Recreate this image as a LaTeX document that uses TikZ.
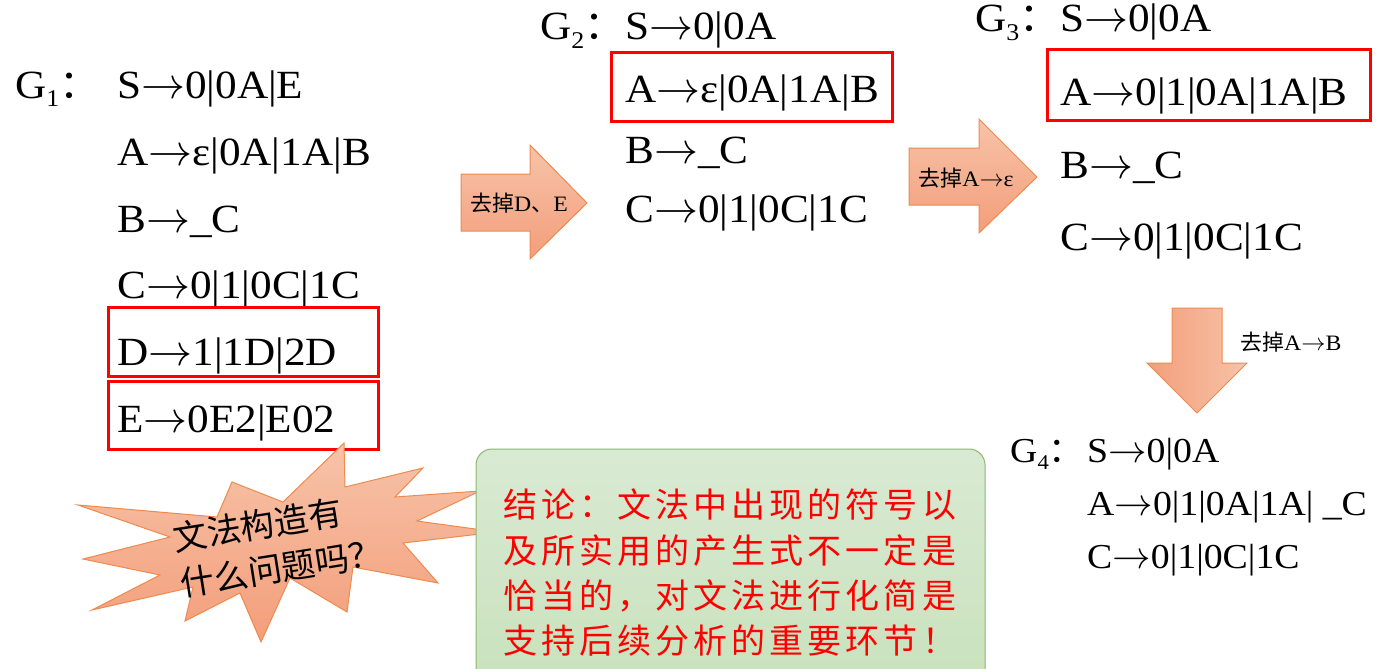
\documentclass[tikz,border=0pt]{standalone}
\usepackage{graphicx}
\usepackage{fontspec}
\setmainfont[FakeStretch=1.08]{Liberation Serif}
\newfontfamily\cjk{Noto Sans CJK SC}
\newfontfamily\cjkls[LetterSpace=12]{Noto Sans CJK SC}
\definecolor{oTop}{HTML}{F7C3A9}
\definecolor{oBot}{HTML}{F39E7A}
\definecolor{oLine}{HTML}{EE8A4E}
\definecolor{gTop}{HTML}{D9EAD3}
\definecolor{gBot}{HTML}{C8E1BB}
\definecolor{gLine}{HTML}{8CB86E}
\newcommand{\ar}{\resizebox{1.1em}{!}{$\rightarrow$}}
\newcommand{\Gsub}[1]{G\raisebox{-0.22em}{\fontsize{0.6em}{0.6em}\selectfont #1}{\cjk ：}}
\tikzset{
  prod/.style={anchor=base west, inner sep=0pt, font=\fontsize{40}{46}\selectfont},
  prodsm/.style={anchor=base west, inner sep=0pt, font=\fontsize{35}{40}\selectfont},
  redbox/.style={draw=red, line width=3pt},
  fatarrow/.style={draw=oLine, line width=1pt, top color=oTop, bottom color=oBot},
  fatarrowdown/.style={draw=oLine, line width=1pt, left color=oBot, right color=oTop},
  arrlabel/.style={inner sep=0pt, font=\fontsize{22}{26}\selectfont},
  redtext/.style={anchor=west, inner sep=0pt, text=red, font=\cjkls\fontsize{34}{40}\selectfont},
}
\begin{document}
\begin{tikzpicture}[x=1pt,y=-1pt]
\useasboundingbox (0,0) rectangle (1381,669);
% ---- G1 ----
\node[prod] (g1) at (15,98) {\Gsub{1}};
\node[prod] (g1s) at (117,98) {S\ar0|0A|E};
\node[prod] (g1a) at (117,165) {A\ar ε|0A|1A|B};
\node[prod] (g1b) at (117,232) {B\ar\_C};
\node[prod] (g1c) at (117,298) {C\ar0|1|0C|1C};
\node[prod] (g1d) at (117,365) {D\ar1|1D|2D};
\node[prod] (g1e) at (117,432) {E\ar0E2|E02};
\draw[redbox] (108,307) rectangle (378,376);
\draw[redbox] (108,381) rectangle (378,449);
% ---- arrow 1 ----
\draw[fatarrow] (461,174) -- (530,174) -- (530,145) -- (587,203) -- (530,259) -- (530,231) -- (461,231) -- cycle;
\node[arrlabel] (l1) at (519,203) {{\cjk 去掉}D{\cjk 、}E};
% ---- G2 ----
\node[prod] (g2) at (540,40) {\Gsub{2}};
\node[prod] (g2s) at (625,40) {S\ar0|0A};
\node[prod] (g2a) at (625,102) {A\ar ε|0A|1A|B};
\node[prod] (g2b) at (625,163) {B\ar\_C};
\node[prod] (g2c) at (625,222) {C\ar0|1|0C|1C};
\draw[redbox] (611,53) rectangle (892,121);
% ---- arrow 2 ----
\draw[fatarrow] (909,148) -- (979,148) -- (979,119) -- (1037,177) -- (979,233) -- (979,205) -- (909,205) -- cycle;
\node[arrlabel] (l2) at (966,178) {{\cjk 去掉}A\ar ε};
% ---- G3 ----
\node[prod] (g3) at (975,32) {\Gsub{3}};
\node[prod] (g3s) at (1060,32) {S\ar0|0A};
\node[prod] (g3a) at (1060,105) {A\ar0|1|0A|1A|B};
\node[prod] (g3b) at (1060,178) {B\ar\_C};
\node[prod] (g3c) at (1060,250) {C\ar0|1|0C|1C};
\draw[redbox] (1047,50) rectangle (1370,120);
% ---- down arrow ----
\draw[fatarrowdown] (1172,308) -- (1222,308) -- (1222,363) -- (1247,363) -- (1197,413) -- (1147,363) -- (1172,363) -- cycle;
\node[arrlabel, anchor=west] (l3) at (1240,342) {{\cjk 去掉}A\ar B};
% ---- G4 ----
\node[prodsm] (g4) at (1010,462) {\Gsub{4}};
\node[prodsm] (g4s) at (1087,462) {S\ar0|0A};
\node[prodsm] (g4a) at (1087,515) {A\ar0|1|0A|1A| \_C};
\node[prodsm] (g4c) at (1087,568) {C\ar0|1|0C|1C};
% ---- star ----
\draw[draw=oLine, line width=1pt, top color=oTop, bottom color=oBot]
  (344,443) -- (345,487) -- (423,468) -- (395,497) -- (480,491) -- (417,521) -- (497,532) -- (403,543) -- (438,583) -- (353,567) -- (347,612) -- (290,578) -- (261,642) -- (240,593) -- (185,621) -- (193,587) -- (92,610) -- (160,575) -- (83,559) -- (170,537) -- (78,505) -- (217,517) -- (232,482) -- (283,502) -- cycle;
\node[inner sep=0pt, align=left, rotate=9, font=\cjk\fontsize{34}{46}\selectfont] (q) at (278,545) {文法构造有\\什么问题吗？};
% ---- green box ----
\draw[draw=gLine, line width=1pt, top color=gTop, bottom color=gBot, rounded corners=16pt] (476,449) rectangle (985,700);
\node[redtext] (c1) at (503,505) {结论：文法中出现的符号以};
\node[redtext] (c2) at (503,551) {及所实用的产生式不一定是};
\node[redtext] (c3) at (503,596) {恰当的，对文法进行化简是};
\node[redtext] (c4) at (503,641) {支持后续分析的重要环节！};
\end{tikzpicture}
\end{document}
